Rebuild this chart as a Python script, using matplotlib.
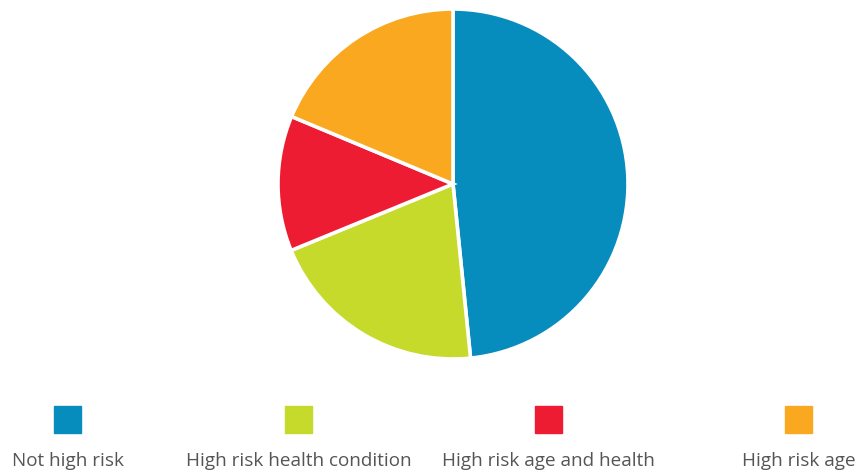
import matplotlib.pyplot as plt
from matplotlib.patches import Rectangle

# risk groups, share of people (%)
labels = ['Not high risk', 'High risk health condition',
          'High risk age and health', 'High risk age']
shares = [48.4, 20.4, 12.5, 18.7]
colors = ['#068dbd', '#c6da2c', '#ee1c32', '#f9a81f']

W, H = 866, 472
fig = plt.figure(figsize=(W / 100, H / 100), dpi=100)

# pie sits in a square box, centre (453, 184) px, radius 175 px
cx, cy, r = 453, 184, 175
ax = fig.add_axes([(cx - r) / W, (H - cy - r) / H, 2 * r / W, 2 * r / H])
ax.pie(shares, colors=colors, startangle=90, counterclock=False, radius=1,
       wedgeprops=dict(edgecolor='white', linewidth=2.6))
ax.set_xlim(-1, 1)
ax.set_ylim(-1, 1)
ax.axis('off')

# legend row: coloured squares with the label centred beneath
leg = fig.add_axes([0, 0, 1, 1])
leg.set_xlim(0, W)
leg.set_ylim(H, 0)
leg.axis('off')
xs = [67.5, 298.5, 548.5, 798.5]
for x, lab, c in zip(xs, labels, colors):
    leg.add_patch(Rectangle((x - 13.5, 406), 27, 27, color=c))
    leg.text(x, 461, lab, ha='center', va='center', fontsize=13.6,
             color='#555555', family='Open Sans')

fig.savefig('out.png', dpi=100)
